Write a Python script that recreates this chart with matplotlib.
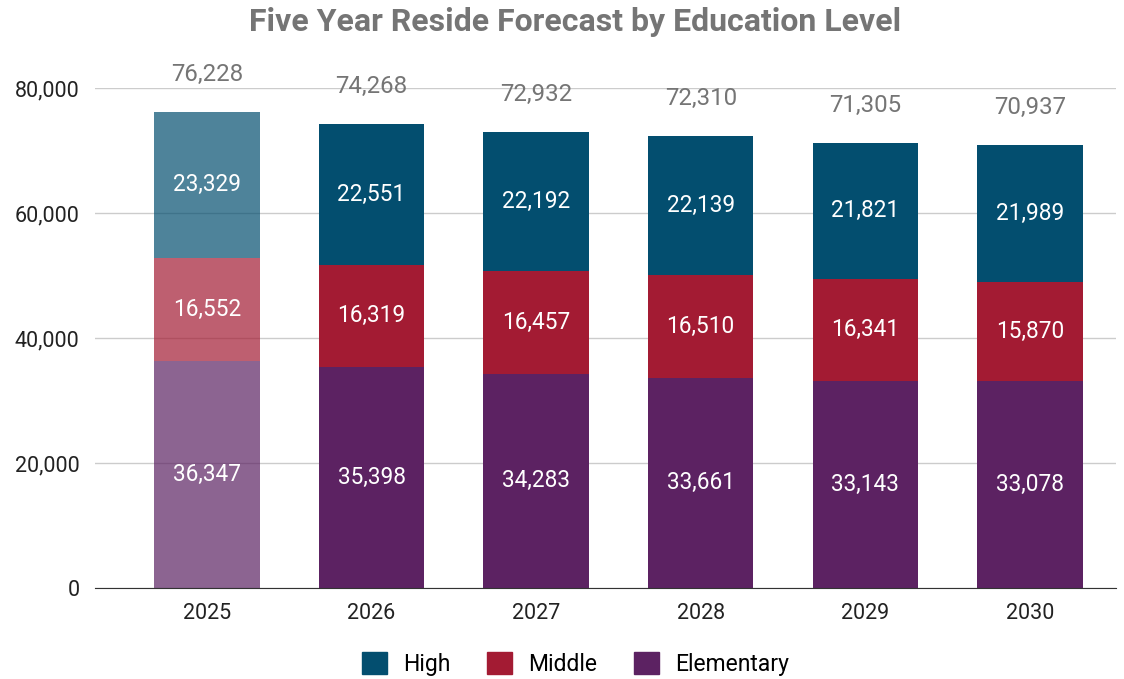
"""Five year reside forecast, stacked by education level."""

import matplotlib
matplotlib.use("Agg")
import matplotlib.pyplot as plt
from matplotlib.patches import Patch
from matplotlib.ticker import FuncFormatter

plt.rcParams["font.family"] = ["Roboto", "DejaVu Sans"]

years = ["2025", "2026", "2027", "2028", "2029", "2030"]
elementary = [36347, 35398, 34283, 33661, 33143, 33078]
middle = [16552, 16319, 16457, 16510, 16341, 15870]
high = [23329, 22551, 22192, 22139, 21821, 21989]
totals = [76228, 74268, 72932, 72310, 71305, 70937]

series = [
    ("Elementary", elementary, "#5c2262"),
    ("Middle", middle, "#a31b33"),
    ("High", high, "#034e6f"),
]

fig = plt.figure(figsize=(11.24, 6.79), dpi=100)
ax = fig.add_axes([0.0845, 0.134, 0.908, 0.736])

x = list(range(len(years)))
bottoms = [0] * len(years)
for name, vals, color in series:
    for i, v in enumerate(vals):
        # first year is a faded (actual) bar
        alpha = 0.7 if i == 0 else 1.0
        ax.bar(x[i], v, width=0.64, bottom=bottoms[i], color=color,
               alpha=alpha, zorder=3)
        ax.text(x[i], bottoms[i] + v / 2, f"{v:,}", ha="center", va="center",
                color="white", fontsize=16.3, zorder=4)
    bottoms = [b + v for b, v in zip(bottoms, vals)]

for i, t in enumerate(totals):
    ax.annotate(f"{t:,}", (x[i], t), xytext=(0, 27), textcoords="offset points",
                ha="center", va="center", color="#757575", fontsize=17.3,
                annotation_clip=False, zorder=5)

ax.set_ylim(0, 80000)
ax.set_xlim(-0.68, 5.52)
ax.set_yticks([0, 20000, 40000, 60000, 80000])
ax.yaxis.set_major_formatter(FuncFormatter(lambda v, _: f"{int(v):,}"))
ax.set_xticks(x)
ax.set_xticklabels(years)
ax.tick_params(axis="both", length=0, labelsize=15.5, colors="#222222")
ax.tick_params(axis="x", pad=11)
ax.tick_params(axis="y", pad=11)
ax.grid(axis="y", color="#cccccc", linewidth=1, zorder=0)
for side in ["top", "right", "left"]:
    ax.spines[side].set_visible(False)
ax.spines["bottom"].set_color("#333333")
ax.spines["bottom"].set_zorder(6)

fig.text(0.512, 0.967, "Five Year Reside Forecast by Education Level",
         ha="center", va="center", fontsize=23, fontweight="bold",
         color="#757575")

handles = [Patch(color=c, label=n) for n, _, c in reversed(series)]
fig.legend(handles=handles, loc="center", bbox_to_anchor=(0.512, 0.022),
           ncol=3, frameon=False, fontsize=16.5, handlelength=1.1,
           handleheight=1.1, columnspacing=1.6, handletextpad=0.7)

fig.savefig("out.png", dpi=100)
